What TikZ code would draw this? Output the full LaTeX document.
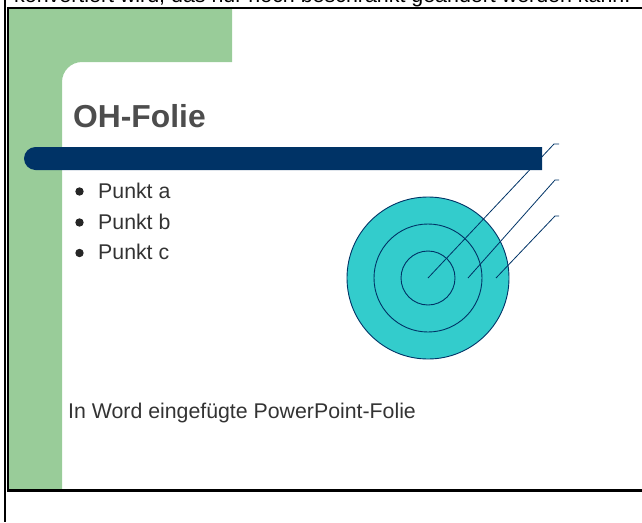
\documentclass[tikz,border=0pt]{standalone}
\usepackage{fontspec}
\setmainfont{Liberation Sans}
\definecolor{foliegreen}{RGB}{153,204,153}
\definecolor{folienavy}{RGB}{0,51,102}
\definecolor{folieteal}{RGB}{51,204,204}
\definecolor{folietext}{RGB}{51,51,51}
\definecolor{folietitel}{RGB}{77,77,77}
\tikzset{
  punkt/.style={anchor=base west, inner sep=0pt, text=folietext,
    font=\fontsize{21.3}{25}\selectfont},
  ring/.style={draw=folienavy, line width=0.9pt},
  hinweis/.style={draw=folienavy, line width=0.8pt},
}
\begin{document}
\begin{tikzpicture}[x=1pt,y=1pt]
  \useasboundingbox (0,0) rectangle (642,-522);
  \clip (0,0) rectangle (642,-522);

  % last line of the page text, cut at the top
  \node[anchor=base west, inner sep=0pt, font=\fontsize{21.4}{25}\selectfont]
    (absatz) at (14,-2.5) {konvertiert wird, das nur noch beschränkt geändert werden kann.};

  % green border of the slide
  \fill[foliegreen] (9,-9) -- (232,-9) -- (232,-62) -- (82,-62)
    arc[start angle=90, end angle=180, radius=20] -- (62,-489) -- (9,-489) -- cycle;

  % frame
  \draw[line width=2pt] (5,0) -- (5,-522);
  \draw[line width=2pt] (8,-7) -- (8,-491);
  \draw[line width=2pt] (7,-8) -- (642,-8);
  \draw[line width=3pt] (7,-490.5) -- (642,-490.5);

  % target
  \coordinate (mitte) at (428,-278);
  \filldraw[ring, fill=folieteal] (mitte) circle (81);
  \draw[ring] (mitte) circle (54);
  \draw[ring] (mitte) circle (27);

  \draw[hinweis] (mitte) -- (554,-144) -- (559,-144);
  \draw[hinweis] ([xshift=40pt]mitte) -- (555,-180) -- (559,-180);
  \draw[hinweis] ([xshift=68pt]mitte) -- (555,-216) -- (559,-216);

  % title bar
  \fill[folienavy] (542,-147) -- (35.5,-147)
    arc[start angle=90, end angle=270, radius=11.5] -- (542,-170) -- cycle;

  \node[anchor=base west, inner sep=0pt, text=folietitel,
    font=\bfseries\fontsize{31.8}{36}\selectfont] (titel) at (73,-127) {OH-Folie};

  \foreach \zeile/\buchst in {198/a, 229/b, 259.5/c} {
    \fill[black!85] (79.5,-\zeile+6.5) circle (4.2);
    \node[punkt] (punkt\buchst) at (98,-\zeile) {Punkt \buchst};
  }

  \node[punkt] (fussnote) at (68,-418) {In Word eingefügte PowerPoint-Folie};
\end{tikzpicture}
\end{document}
